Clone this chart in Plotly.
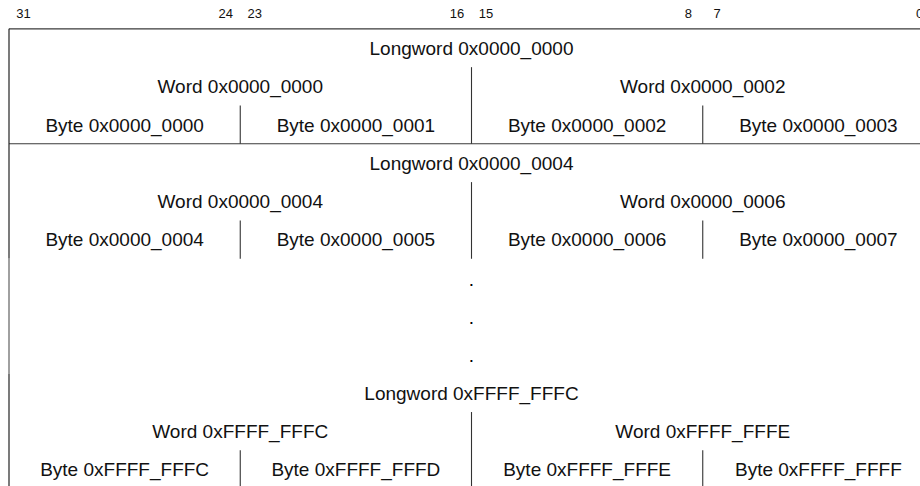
import plotly.graph_objects as go

# ---------------- data ----------------
bit_labels = ["31", "24", "23", "16", "15", "8", "7", "0"]
bit_numbers = [31, 24, 23, 16, 15, 8, 7, 0]

longword_labels = ["Longword 0x0000_0000", "Longword 0x0000_0004", "Longword 0xFFFF_FFFC"]
word_labels = [
    ["Word 0x0000_0000", "Word 0x0000_0002"],
    ["Word 0x0000_0004", "Word 0x0000_0006"],
    ["Word 0xFFFF_FFFC", "Word 0xFFFF_FFFE"],
]
byte_labels = [
    ["Byte 0x0000_0000", "Byte 0x0000_0001", "Byte 0x0000_0002", "Byte 0x0000_0003"],
    ["Byte 0x0000_0004", "Byte 0x0000_0005", "Byte 0x0000_0006", "Byte 0x0000_0007"],
    ["Byte 0xFFFF_FFFC", "Byte 0xFFFF_FFFD", "Byte 0xFFFF_FFFE", "Byte 0xFFFF_FFFF"],
]
ellipsis_labels = [".", ".", "."]

# ---------------- layout constants ----------------
block_rows = [0, 3, 9]          # row index of each longword line
ellipsis_rows = [6, 7, 8]
hline_rows = [-0.5, 2.5]        # horizontal separators
BITS = 32
W, H = 920, 486
LEFT_PX = 9
BIT_PX = 925 / 32
ROW0_PX = 48
ROW_PX = 38.32
TEXT_DY = 0.055                  # small baseline correction for text rows

x_range = [-LEFT_PX / BIT_PX, (W - LEFT_PX) / BIT_PX]
y_range = [(H - ROW0_PX) / ROW_PX, -ROW0_PX / ROW_PX]

FONT = "Liberation Sans, Arial, sans-serif"
LINE = "#3a3a3a"

fig = go.Figure()

def add_lines(xs, ys, color=LINE, width=1.1):
    fig.add_trace(go.Scatter(x=xs, y=ys, mode="lines",
                             line=dict(color=color, width=width),
                             hoverinfo="skip", showlegend=False))

# horizontal separators
hx, hy = [], []
for r in hline_rows:
    hx += [0, BITS + 1, None]
    hy += [r, r, None]
add_lines(hx, hy)

# left border: solid, gray gap region, solid
add_lines([0, 0], [-0.5, 5.5], color="#222222", width=1.2)
add_lines([0, 0], [5.5, 8.5], color="#a0a0a0", width=2)
add_lines([0, 0], [8.5, 13], color="#222222", width=1.2)

# vertical dividers inside each block
vx, vy = [], []
for r in block_rows:
    vx += [16, 16, None]
    vy += [r + 0.5, r + 2.5, None]
    for b in (8, 24):
        vx += [b, b, None]
        vy += [r + 1.5, r + 2.5, None]
add_lines(vx, vy, color="#333333", width=1.1)

# bit labels
fig.add_trace(go.Scatter(
    x=[BITS - 0.5 - b for b in bit_numbers], y=[-0.915 + TEXT_DY] * len(bit_numbers),
    mode="text", text=bit_labels,
    textfont=dict(family=FONT, size=13, color="#111111"),
    hoverinfo="skip", showlegend=False, cliponaxis=False))

# longword / word / byte labels
tx, ty, tt = [], [], []
for i, r in enumerate(block_rows):
    tx.append(16); ty.append(r + TEXT_DY); tt.append(longword_labels[i])
    for j, lab in enumerate(word_labels[i]):
        tx.append(8 + 16 * j); ty.append(r + 1 + TEXT_DY); tt.append(lab)
    for j, lab in enumerate(byte_labels[i]):
        tx.append(4 + 8 * j); ty.append(r + 2 + TEXT_DY); tt.append(lab)
fig.add_trace(go.Scatter(
    x=tx, y=ty, mode="text", text=tt,
    textfont=dict(family=FONT, size=19, color="#111111"),
    hoverinfo="skip", showlegend=False, cliponaxis=False))

# ellipsis dots
fig.add_trace(go.Scatter(
    x=[16] * len(ellipsis_rows), y=[r + 1.5 * TEXT_DY for r in ellipsis_rows],
    mode="text", text=ellipsis_labels,
    textfont=dict(family=FONT, size=19, color="#000000"),
    hoverinfo="skip", showlegend=False))

axis_common = dict(visible=False, showgrid=False, zeroline=False, fixedrange=True)
fig.update_layout(
    width=W, height=H,
    margin=dict(l=0, r=0, t=0, b=0),
    paper_bgcolor="white", plot_bgcolor="white",
    xaxis=dict(range=x_range, **axis_common),
    yaxis=dict(range=y_range, **axis_common),
    showlegend=False,
)

fig.write_html("out.html", config={"displayModeBar": False},
               post_script="document.body.style.margin='0px';document.body.style.overflow='hidden';")
